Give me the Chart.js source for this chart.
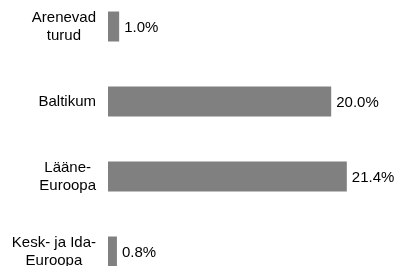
<!DOCTYPE html>
<html>
<head>
<meta charset="utf-8">
<script src="https://cdn.jsdelivr.net/npm/chart.js@4/dist/chart.umd.min.js"></script>
<style>
  html, body { margin: 0; padding: 0; background: #fff; overflow: hidden; }
  #wrap { position: absolute; left: 0; top: -11px; width: 394px; height: 300px; }
</style>
</head>
<body>
<div id="wrap"><canvas id="chart"></canvas></div>
<script>
// kategooriad (mitmerealised sildid) ja väärtused protsentides
const categories = [
    ["Arenevad", "turud"],
    ["Baltikum"],
    ["Lääne-", "Euroopa"],
    ["Kesk- ja Ida-", "Euroopa"]
];
const shares = [1.0, 20.0, 21.4, 0.8];

const FONT = "15px 'Liberation Sans', Arial, sans-serif";

// kategooriasildid: plokk paremale joondatud, read ploki sees keskel
const categoryLabels = {
    id: "categoryLabels",
    afterDraw(chart) {
        const ctx = chart.ctx;
        const yScale = chart.scales.y;
        const right = 96;
        const lineH = 18.5;
        ctx.save();
        ctx.font = FONT;
        ctx.fillStyle = "#000";
        ctx.textAlign = "center";
        ctx.textBaseline = "middle";
        categories.forEach((lines, i) => {
            const w = Math.max(...lines.map(l => ctx.measureText(l).width));
            const cx = right - w / 2;
            const cy = yScale.getPixelForValue(i) + 0.5;
            const top = cy - (lines.length - 1) * lineH / 2;
            lines.forEach((l, j) => ctx.fillText(l, cx, top + j * lineH));
        });
        ctx.restore();
    }
};

// väärtuste sildid tulpade otsas
const valueLabels = {
    id: "valueLabels",
    afterDatasetsDraw(chart) {
        const ctx = chart.ctx;
        const meta = chart.getDatasetMeta(0);
        ctx.save();
        ctx.font = FONT;
        ctx.fillStyle = "#000";
        ctx.textAlign = "left";
        ctx.textBaseline = "middle";
        meta.data.forEach((bar, i) => {
            ctx.fillText(shares[i].toFixed(1) + "%", bar.x + 5, bar.y + 1);
        });
        ctx.restore();
    }
};

new Chart(document.getElementById("chart"), {
    type: "bar",
    data: {
        labels: categories,
        datasets: [{
            data: shares,
            backgroundColor: "#808080",
            borderWidth: 0,
            barPercentage: 0.8,
            categoryPercentage: 0.5
        }]
    },
    options: {
        indexAxis: "y",
        responsive: true,
        maintainAspectRatio: false,
        animation: false,
        layout: { padding: { left: 0, right: 7, top: 0, bottom: 0 } },
        plugins: {
            legend: { display: false },
            tooltip: { enabled: false }
        },
        scales: {
            x: {
                display: false,
                min: 0,
                max: 25
            },
            y: {
                grid: { display: false },
                border: { display: false },
                ticks: { display: false },
                afterFit(scale) { scale.width = 108; }
            }
        }
    },
    plugins: [categoryLabels, valueLabels]
});
</script>
</body>
</html>
